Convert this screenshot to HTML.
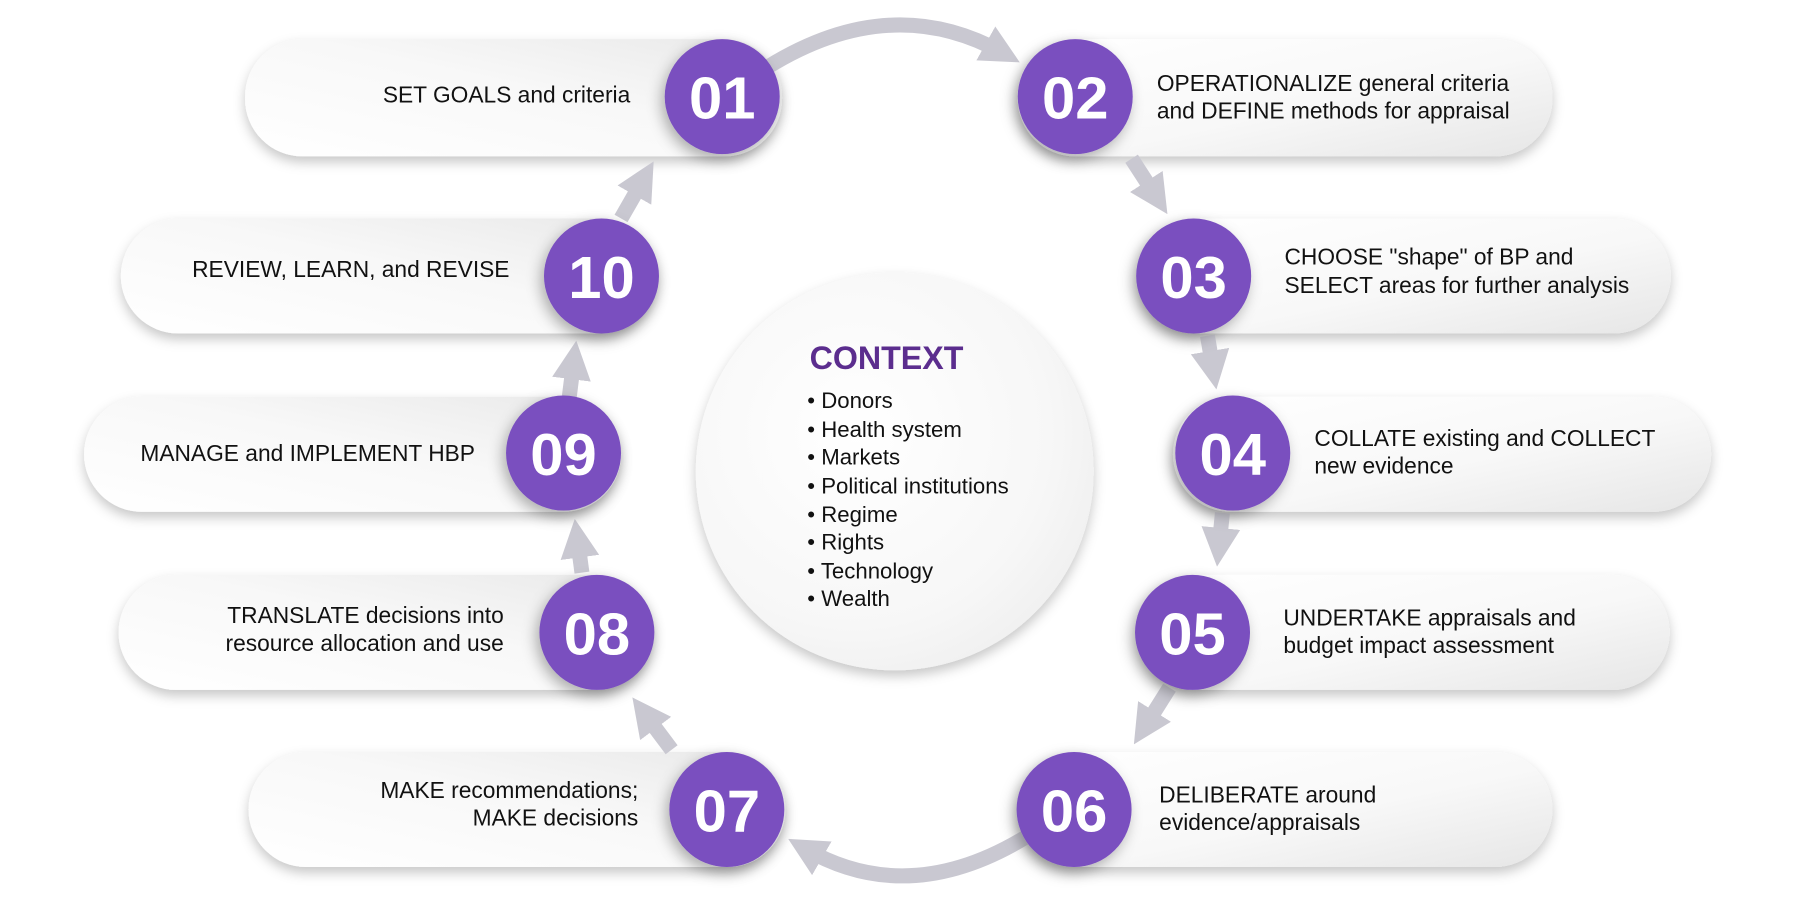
<!DOCTYPE html>
<html><head><meta charset="utf-8"><style>
html,body{margin:0;padding:0;background:#fff;}
svg{display:block;}
text{font-family:"Liberation Sans",Arial,sans-serif;}
</style></head><body>
<svg width="1794" height="913" viewBox="0 0 1560 794" xmlns="http://www.w3.org/2000/svg">
<defs>
<linearGradient id="pg" x1="0" y1="0" x2="1" y2="1">
<stop offset="0" stop-color="#ffffff"/><stop offset="0.55" stop-color="#f8f8f8"/><stop offset="1" stop-color="#e6e6e6"/>
</linearGradient>
<linearGradient id="pgL" x1="1" y1="0" x2="0" y2="1">
<stop offset="0" stop-color="#e9e9e9"/><stop offset="0.45" stop-color="#f8f8f8"/><stop offset="1" stop-color="#ffffff"/>
</linearGradient>
<radialGradient id="cg" cx="0.4" cy="0.4" r="0.7">
<stop offset="0" stop-color="#ffffff"/><stop offset="0.7" stop-color="#f7f7f7"/><stop offset="1" stop-color="#eeeeee"/>
</radialGradient>
<filter id="sh" x="-20%" y="-30%" width="140%" height="170%">
<feDropShadow dx="0" dy="5" stdDeviation="5" flood-color="#000" flood-opacity="0.22"/>
</filter>
<filter id="csh" x="-40%" y="-40%" width="180%" height="190%">
<feDropShadow dx="-3" dy="5" stdDeviation="6" flood-color="#000" flood-opacity="0.3"/>
</filter>
<marker id="ah" viewBox="0 0 10 10" refX="5" refY="5" markerWidth="2.6" markerHeight="2.6" orient="auto" markerUnits="strokeWidth">
<path d="M0,0 L10,5 L0,10 z" fill="#c9c8d1"/>
</marker>
</defs>

<g filter="url(#sh)">
<rect x="213" y="34" width="467" height="102" rx="50" fill="url(#pgL)"/>
<rect x="885" y="34" width="465" height="102" rx="50" fill="url(#pg)"/>
<rect x="990" y="190" width="463" height="100" rx="50" fill="url(#pg)"/>
<rect x="1020" y="345" width="468" height="100" rx="50" fill="url(#pg)"/>
<rect x="990" y="500" width="462" height="100" rx="50" fill="url(#pg)"/>
<rect x="885" y="654" width="465" height="100" rx="50" fill="url(#pg)"/>
<rect x="216" y="654" width="467" height="100" rx="50" fill="url(#pgL)"/>
<rect x="103" y="500" width="465" height="100" rx="50" fill="url(#pgL)"/>
<rect x="73" y="345" width="467" height="100" rx="50" fill="url(#pgL)"/>
<rect x="105" y="190" width="467" height="100" rx="50" fill="url(#pgL)"/>
</g>

<circle cx="778" cy="410" r="173" fill="url(#cg)" filter="url(#sh)"/>

<g fill="none" stroke="#c9c8d1" stroke-width="13" marker-end="url(#ah)">
<path d="M668,58 Q775,-8 872,46"/>
<path d="M984,138 L1006,172"/>
<path d="M1050,292 L1055,322"/>
<path d="M1063,446 L1060,476"/>
<path d="M1017,598 L995,633"/>
<path d="M892,728 Q790,790 700,738"/>
<path d="M584,652 L560,620"/>
<path d="M506,498 L502,468"/>
<path d="M495,345 L499,313"/>
<path d="M540,190 L560,155"/>
</g>

<g fill="#7a4fbf" filter="url(#csh)">
<circle cx="628" cy="84" r="50"/>
<circle cx="935" cy="84" r="50"/>
<circle cx="1038" cy="240" r="50"/>
<circle cx="1072" cy="394" r="50"/>
<circle cx="1037" cy="550" r="50"/>
<circle cx="934" cy="704" r="50"/>
<circle cx="632" cy="704" r="50"/>
<circle cx="519" cy="550" r="50"/>
<circle cx="490" cy="394" r="50"/>
<circle cx="523" cy="240" r="50"/>
</g>
<g fill="#fff" font-size="52" font-weight="bold" text-anchor="middle">
<text x="628" y="103">01</text>
<text x="935" y="103">02</text>
<text x="1038" y="259">03</text>
<text x="1072" y="413">04</text>
<text x="1037" y="569">05</text>
<text x="934" y="723">06</text>
<text x="632" y="723">07</text>
<text x="519" y="569">08</text>
<text x="490" y="413">09</text>
<text x="523" y="259">10</text>
</g>

<g fill="#111" font-size="19.8">
<text x="548" y="89" text-anchor="end">SET GOALS and criteria</text>
<text x="1006" y="79">OPERATIONALIZE general criteria</text>
<text x="1006" y="103">and DEFINE methods for appraisal</text>
<text x="1117" y="230">CHOOSE "shape" of BP and</text>
<text x="1117" y="255">SELECT areas for further analysis</text>
<text x="1143" y="388">COLLATE existing and COLLECT</text>
<text x="1143" y="412">new evidence</text>
<text x="1116" y="544">UNDERTAKE appraisals and</text>
<text x="1116" y="568">budget impact assessment</text>
<text x="1008" y="698">DELIBERATE around</text>
<text x="1008" y="722">evidence/appraisals</text>
<text x="555" y="694" text-anchor="end">MAKE recommendations;</text>
<text x="555" y="718" text-anchor="end">MAKE decisions</text>
<text x="438" y="542" text-anchor="end">TRANSLATE decisions into</text>
<text x="438" y="566" text-anchor="end">resource allocation and use</text>
<text x="413" y="401" text-anchor="end">MANAGE and IMPLEMENT HBP</text>
<text x="443" y="241" text-anchor="end">REVIEW, LEARN, and REVISE</text>
</g>

<text x="704" y="321" fill="#5b2d8e" font-size="28" font-weight="bold">CONTEXT</text>
<g fill="#111" font-size="19.3">
<text x="702" y="355">• Donors</text>
<text x="702" y="380">• Health system</text>
<text x="702" y="404">• Markets</text>
<text x="702" y="429">• Political institutions</text>
<text x="702" y="454">• Regime</text>
<text x="702" y="478">• Rights</text>
<text x="702" y="503">• Technology</text>
<text x="702" y="527">• Wealth</text>
</g>
</svg>
</body></html>
